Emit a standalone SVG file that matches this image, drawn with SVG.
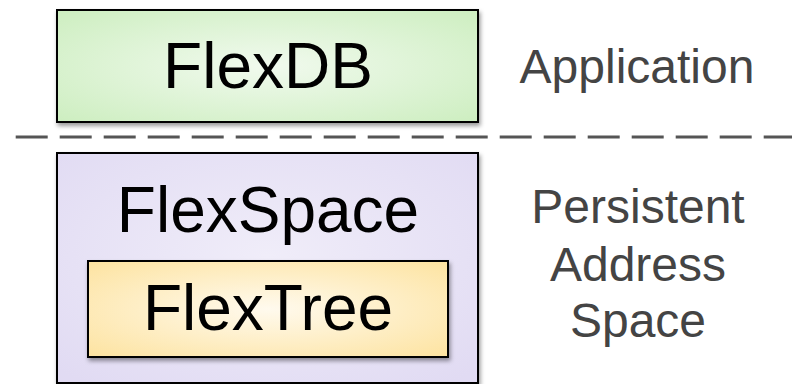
<svg xmlns="http://www.w3.org/2000/svg" width="792" height="384" viewBox="0 0 792 384">
  <defs>
    <radialGradient id="gGreen" cx="0.5" cy="0.5" r="0.7">
      <stop offset="0" stop-color="#f1faee"/>
      <stop offset="1" stop-color="#cdeec0"/>
    </radialGradient>
    <radialGradient id="gPurple" cx="0.5" cy="0.45" r="0.7">
      <stop offset="0" stop-color="#f0edf9"/>
      <stop offset="1" stop-color="#e1dbf3"/>
    </radialGradient>
    <radialGradient id="gYellow" cx="0.5" cy="0.5" r="0.7">
      <stop offset="0" stop-color="#fffaee"/>
      <stop offset="1" stop-color="#fde3a0"/>
    </radialGradient>
    <filter id="shadow" x="-10%" y="-10%" width="125%" height="130%">
      <feDropShadow dx="1.5" dy="3" stdDeviation="2.2" flood-color="#000" flood-opacity="0.4"/>
    </filter>
  </defs>
  <style>
    .box { stroke: #000; stroke-width: 2; filter: url(#shadow); }
    .lbl { font-family: "Liberation Sans", Arial, sans-serif; font-size: 64px; fill: #000; text-anchor: middle; }
    .side { font-family: "Liberation Sans", Arial, sans-serif; font-size: 48px; fill: #444; text-anchor: middle; }
  </style>
  <rect width="792" height="384" fill="#fff"/>
  <g id="connectors">
    <line x1="15.7" y1="137" x2="792" y2="137" stroke="#555" stroke-width="3" stroke-dasharray="32 12"/>
  </g>
  <g id="flexdb">
    <rect class="box" x="57" y="10" width="421" height="112" fill="url(#gGreen)"/>
    <text class="lbl" x="268" y="88">FlexDB</text>
  </g>
  <g id="flexspace">
    <rect class="box" x="57" y="153" width="421" height="230" fill="url(#gPurple)"/>
    <text class="lbl" x="268" y="232">FlexSpace</text>
  </g>
  <g id="flextree">
    <rect class="box" x="88" y="261" width="360" height="96" fill="url(#gYellow)"/>
    <text class="lbl" x="268" y="330">FlexTree</text>
  </g>
  <g id="application">
    <text class="side" x="637" y="83">Application</text>
  </g>
  <g id="pas">
    <text class="side" x="638" y="223">Persistent</text>
    <text class="side" x="638" y="281">Address</text>
    <text class="side" x="638" y="337">Space</text>
  </g>
</svg>
